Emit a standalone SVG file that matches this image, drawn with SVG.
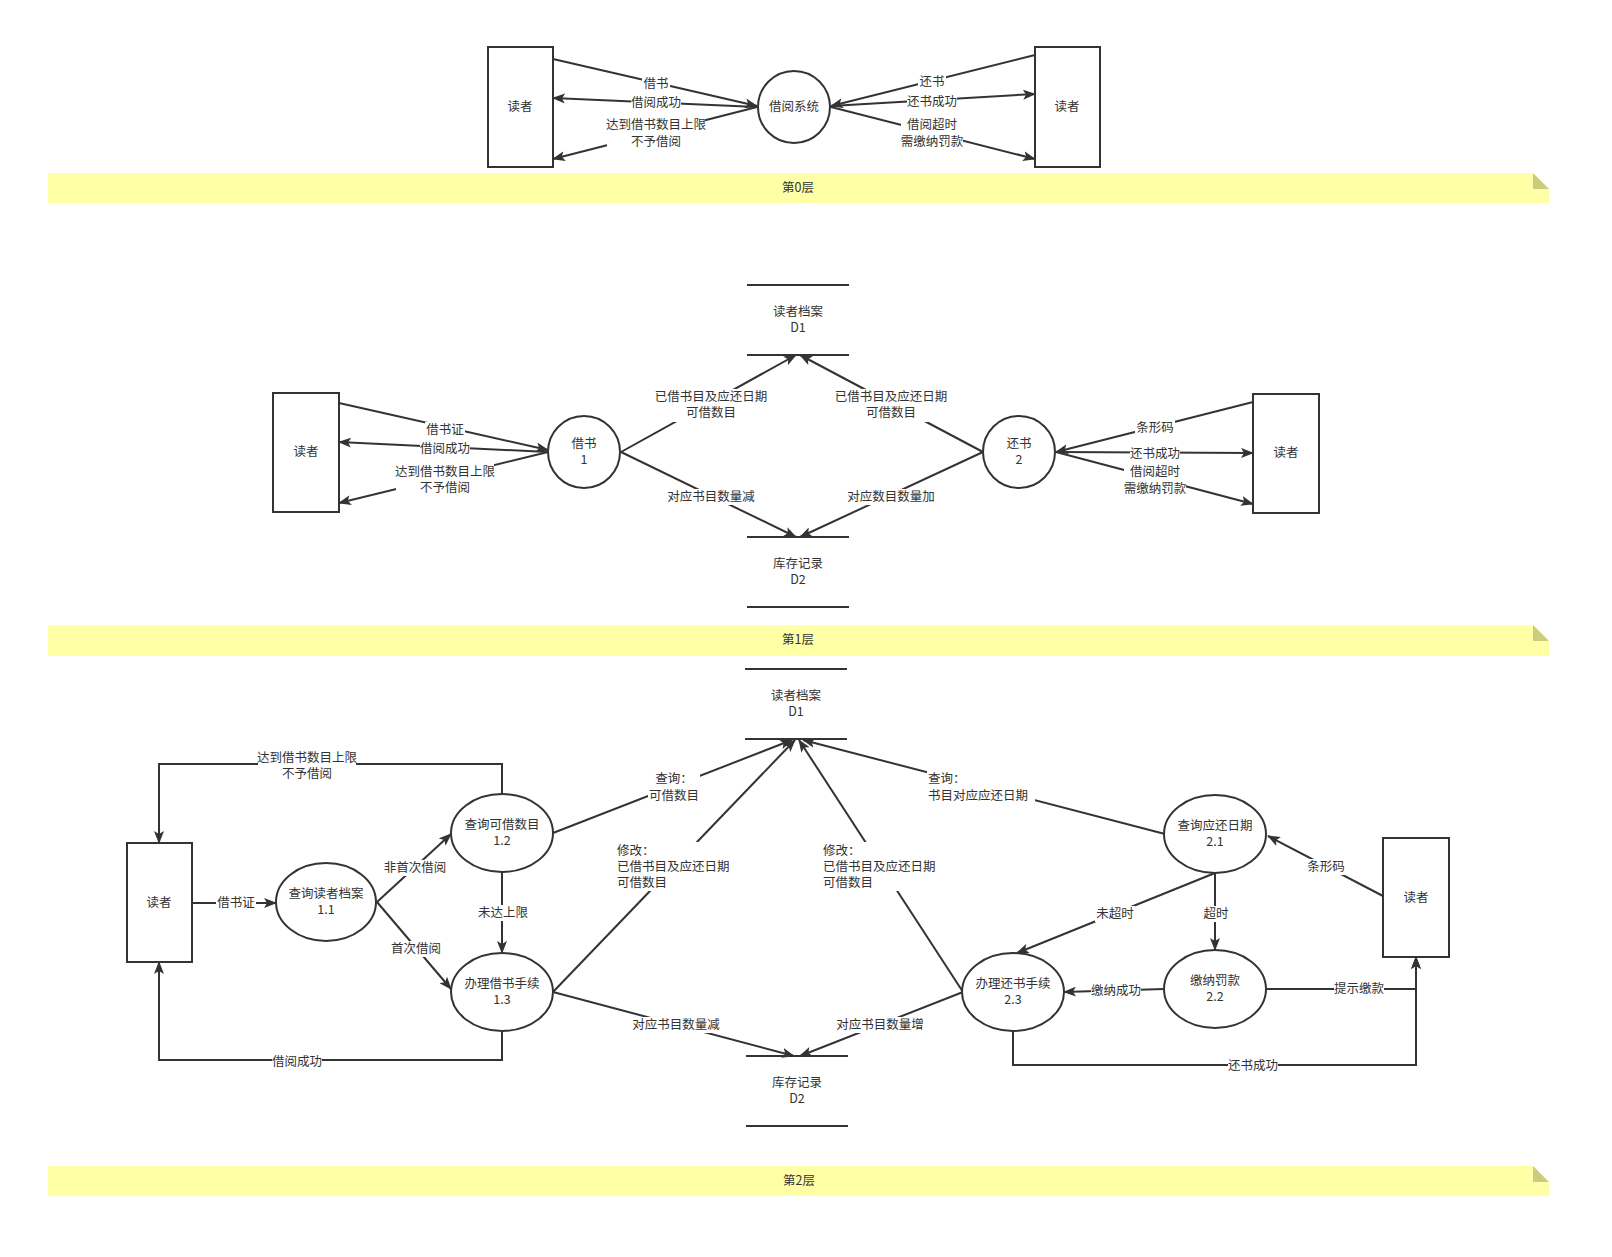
<svg xmlns="http://www.w3.org/2000/svg" width="1612" height="1257" viewBox="0 0 1612 1257">
<defs>
<marker id="a" markerWidth="13" markerHeight="10" refX="12" refY="5" orient="auto" markerUnits="userSpaceOnUse"><path d="M0,0 L13,5 L0,10 L3,5 z" fill="#333"/></marker>
</defs>
<style>
text{font-family:"Noto Sans CJK SC","Noto Sans",sans-serif;font-size:12.5px;fill:#333;text-anchor:middle;dominant-baseline:central;transform:translateY(-1.5px)}
.l{text-anchor:start}
.box{fill:#fff;stroke:#333;stroke-width:2}
.c{fill:none;stroke:#333;stroke-width:2;marker-end:url(#a)}
.bg{fill:#fff}
.band{fill:#ffffa6}
.fold{fill:#cccc80}
.ds{stroke:#333;stroke-width:2}
</style>
<rect width="1612" height="1257" fill="#fff"/>

<!-- bands -->
<g id="band0"><path class="band" d="M48,173 H1533 L1549,189 V203 H48 Z"/><path class="fold" d="M1533,173 V189 H1549 Z"/><text x="798" y="188">第0层</text></g>
<g id="band1"><path class="band" d="M48,625 H1533 L1549,641 V656 H48 Z"/><path class="fold" d="M1533,625 V641 H1549 Z"/><text x="798" y="640">第1层</text></g>
<g id="band2"><path class="band" d="M48,1166 H1533 L1549,1182 V1196 H48 Z"/><path class="fold" d="M1533,1166 V1182 H1549 Z"/><text x="799" y="1181">第2层</text></g>

<!-- connectors -->
<g id="connectors">
<!-- layer 0 -->
<line class="c" x1="553" y1="59" x2="757" y2="106"/>
<line class="c" x1="757" y1="107" x2="553" y2="98"/>
<line class="c" x1="757" y1="107" x2="553" y2="159"/>
<line class="c" x1="1035" y1="55" x2="831" y2="106"/>
<line class="c" x1="831" y1="106" x2="1035" y2="94"/>
<line class="c" x1="831" y1="107" x2="1035" y2="159"/>
<!-- layer 1 -->
<line class="c" x1="339" y1="403" x2="548" y2="450"/>
<line class="c" x1="548" y1="452" x2="339" y2="442"/>
<line class="c" x1="548" y1="452" x2="339" y2="503"/>
<line class="c" x1="621" y1="452" x2="796" y2="355"/>
<line class="c" x1="621" y1="452" x2="796" y2="537"/>
<line class="c" x1="983" y1="452" x2="800" y2="355"/>
<line class="c" x1="983" y1="452" x2="800" y2="537"/>
<line class="c" x1="1253" y1="402" x2="1056" y2="452"/>
<line class="c" x1="1056" y1="452" x2="1253" y2="453"/>
<line class="c" x1="1056" y1="452" x2="1253" y2="504"/>
<!-- layer 2 -->
<line class="c" x1="192" y1="903" x2="276" y2="903"/>
<line class="c" x1="377" y1="902" x2="451" y2="834"/>
<line class="c" x1="377" y1="902" x2="451" y2="989"/>
<line class="c" x1="502" y1="872" x2="502" y2="953"/>
<polyline class="c" points="502,794 502,764 159,764 159,843"/>
<polyline class="c" points="502,1031 502,1060 159,1060 159,962"/>
<line class="c" x1="553" y1="833" x2="792" y2="740"/>
<line class="c" x1="553" y1="992" x2="795" y2="740"/>
<line class="c" x1="963" y1="992" x2="799" y2="740"/>
<line class="c" x1="1165" y1="834" x2="803" y2="740"/>
<line class="c" x1="553" y1="992" x2="794" y2="1056"/>
<line class="c" x1="963" y1="992" x2="800" y2="1056"/>
<line class="c" x1="1383" y1="896" x2="1268" y2="836"/>
<line class="c" x1="1215" y1="873" x2="1017" y2="953"/>
<line class="c" x1="1215" y1="873" x2="1215" y2="950"/>
<line class="c" x1="1164" y1="989" x2="1064" y2="992"/>
<polyline class="c" points="1266,989 1416,989 1416,957"/>
<polyline class="c" points="1013,1031 1013,1065 1416,1065 1416,957"/>

<!-- labels layer 0 -->
<rect class="bg" x="642" y="76" width="28" height="16"/><text x="656" y="84">借书</text>
<rect class="bg" x="631" y="95" width="50" height="16"/><text x="656" y="103">借阅成功</text>
<rect class="bg" x="607" y="117" width="98" height="33"/><text x="656" y="125">达到借书数目上限</text><text x="656" y="142">不予借阅</text>
<rect class="bg" x="918" y="74" width="28" height="16"/><text x="932" y="82">还书</text>
<rect class="bg" x="907" y="94" width="50" height="16"/><text x="932" y="102">还书成功</text>
<rect class="bg" x="901" y="117" width="62" height="33"/><text x="932" y="125">借阅超时</text><text x="932" y="142">需缴纳罚款</text>
<!-- labels layer 1 -->
<rect class="bg" x="425" y="422" width="40" height="16"/><text x="445" y="430">借书证</text>
<rect class="bg" x="420" y="441" width="50" height="16"/><text x="445" y="449">借阅成功</text>
<rect class="bg" x="396" y="464" width="98" height="33"/><text x="445" y="472">达到借书数目上限</text><text x="445" y="488">不予借阅</text>
<rect class="bg" x="652" y="389" width="118" height="33"/><text x="711" y="397">已借书目及应还日期</text><text x="711" y="413">可借数目</text>
<rect class="bg" x="664" y="489" width="94" height="16"/><text x="711" y="497">对应书目数量减</text>
<rect class="bg" x="832" y="389" width="118" height="33"/><text x="891" y="397">已借书目及应还日期</text><text x="891" y="413">可借数目</text>
<rect class="bg" x="844" y="489" width="94" height="16"/><text x="891" y="497">对应数目数量加</text>
<rect class="bg" x="1135" y="420" width="40" height="16"/><text x="1155" y="428">条形码</text>
<rect class="bg" x="1130" y="446" width="50" height="16"/><text x="1155" y="454">还书成功</text>
<rect class="bg" x="1124" y="464" width="62" height="33"/><text x="1155" y="472">借阅超时</text><text x="1155" y="489">需缴纳罚款</text>
<!-- labels layer 2 -->
<rect class="bg" x="216" y="895" width="40" height="16"/><text x="236" y="903">借书证</text>
<rect class="bg" x="383" y="860" width="64" height="16"/><text x="415" y="868">非首次借阅</text>
<rect class="bg" x="391" y="941" width="50" height="16"/><text x="416" y="949">首次借阅</text>
<rect class="bg" x="478" y="905" width="50" height="16"/><text x="503" y="913">未达上限</text>
<rect class="bg" x="258" y="750" width="98" height="33"/><text x="307" y="758">达到借书数目上限</text><text x="307" y="774">不予借阅</text>
<rect class="bg" x="272" y="1054" width="50" height="16"/><text x="297" y="1062">借阅成功</text>
<rect class="bg" x="648" y="771" width="52" height="33"/><text x="674" y="779">查询：</text><text x="674" y="796">可借数目</text>
<rect class="bg" x="616" y="842" width="120" height="49"/><text class="l" x="617" y="851">修改：</text><text class="l" x="617" y="867">已借书目及应还日期</text><text class="l" x="617" y="883">可借数目</text>
<rect class="bg" x="822" y="842" width="120" height="49"/><text class="l" x="823" y="851">修改：</text><text class="l" x="823" y="867">已借书目及应还日期</text><text class="l" x="823" y="883">可借数目</text>
<rect class="bg" x="927" y="771" width="108" height="33"/><text class="l" x="928" y="779">查询：</text><text class="l" x="928" y="796">书目对应应还日期</text>
<rect class="bg" x="629" y="1017" width="94" height="16"/><text x="676" y="1025">对应书目数量减</text>
<rect class="bg" x="833" y="1017" width="94" height="16"/><text x="880" y="1025">对应书目数量增</text>
<rect class="bg" x="1306" y="859" width="40" height="16"/><text x="1326" y="867">条形码</text>
<rect class="bg" x="1095" y="906" width="40" height="16"/><text x="1115" y="914">未超时</text>
<rect class="bg" x="1201" y="906" width="30" height="16"/><text x="1216" y="914">超时</text>
<rect class="bg" x="1091" y="983" width="50" height="16"/><text x="1116" y="991">缴纳成功</text>
<rect class="bg" x="1334" y="981" width="50" height="16"/><text x="1359" y="989">提示缴款</text>
<rect class="bg" x="1228" y="1057" width="50" height="16"/><text x="1253" y="1066">还书成功</text>
</g>

<!-- layer 0 nodes -->
<g id="l0-reader-left"><rect class="box" x="488" y="47" width="65" height="120"/><text x="520" y="107">读者</text></g>
<g id="l0-system"><circle class="box" cx="794" cy="107" r="36"/><text x="794" y="107">借阅系统</text></g>
<g id="l0-reader-right"><rect class="box" x="1035" y="47" width="65" height="120"/><text x="1067" y="107">读者</text></g>

<!-- layer 1 nodes -->
<g id="l1-d1"><line class="ds" x1="747" y1="285" x2="849" y2="285"/><line class="ds" x1="747" y1="355" x2="849" y2="355"/><text x="798" y="312">读者档案</text><text x="798" y="328">D1</text></g>
<g id="l1-d2"><line class="ds" x1="747" y1="537" x2="849" y2="537"/><line class="ds" x1="747" y1="607" x2="849" y2="607"/><text x="798" y="564">库存记录</text><text x="798" y="580">D2</text></g>
<g id="l1-reader-left"><rect class="box" x="273" y="393" width="66" height="119"/><text x="306" y="452">读者</text></g>
<g id="l1-p1"><circle class="box" cx="584" cy="452" r="36"/><text x="584" y="444">借书</text><text x="584" y="460">1</text></g>
<g id="l1-p2"><circle class="box" cx="1019" cy="452" r="36"/><text x="1019" y="444">还书</text><text x="1019" y="460">2</text></g>
<g id="l1-reader-right"><rect class="box" x="1253" y="394" width="66" height="119"/><text x="1286" y="453">读者</text></g>

<!-- layer 2 nodes -->
<g id="l2-d1"><line class="ds" x1="745" y1="669" x2="847" y2="669"/><line class="ds" x1="745" y1="739" x2="847" y2="739"/><text x="796" y="696">读者档案</text><text x="796" y="712">D1</text></g>
<g id="l2-d2"><line class="ds" x1="746" y1="1056" x2="848" y2="1056"/><line class="ds" x1="746" y1="1126" x2="848" y2="1126"/><text x="797" y="1083">库存记录</text><text x="797" y="1099">D2</text></g>
<g id="l2-reader-left"><rect class="box" x="127" y="843" width="65" height="119"/><text x="159" y="903">读者</text></g>
<g id="l2-p11"><ellipse class="box" cx="326" cy="902" rx="50" ry="39"/><text x="326" y="894">查询读者档案</text><text x="326" y="910">1.1</text></g>
<g id="l2-p12"><ellipse class="box" cx="502" cy="833" rx="51" ry="39"/><text x="502" y="825">查询可借数目</text><text x="502" y="841">1.2</text></g>
<g id="l2-p13"><ellipse class="box" cx="502" cy="992" rx="51" ry="39"/><text x="502" y="984">办理借书手续</text><text x="502" y="1000">1.3</text></g>
<g id="l2-p21"><ellipse class="box" cx="1215" cy="834" rx="51" ry="39"/><text x="1215" y="826">查询应还日期</text><text x="1215" y="842">2.1</text></g>
<g id="l2-p22"><ellipse class="box" cx="1215" cy="989" rx="51" ry="39"/><text x="1215" y="981">缴纳罚款</text><text x="1215" y="997">2.2</text></g>
<g id="l2-p23"><ellipse class="box" cx="1013" cy="992" rx="51" ry="39"/><text x="1013" y="984">办理还书手续</text><text x="1013" y="1000">2.3</text></g>
<g id="l2-reader-right"><rect class="box" x="1383" y="838" width="66" height="119"/><text x="1416" y="898">读者</text></g>
</svg>
